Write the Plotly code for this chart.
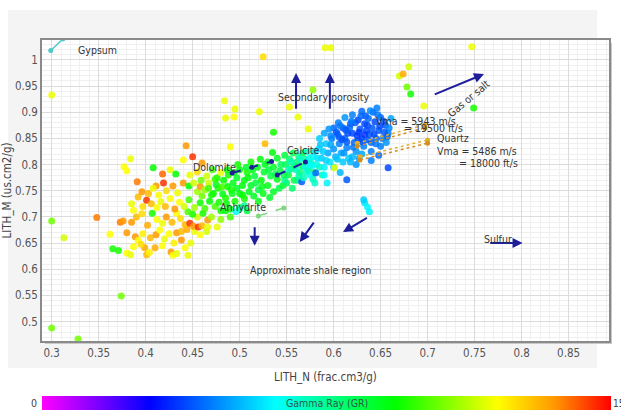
import plotly.graph_objects as go

# ---- data (LITH_N, LITH_M, GR) ----
outliers = [
    (0.300, 0.933, 118), (0.300, 0.692, 105), (0.313, 0.660, 115), (0.300, 0.488, 105),
    (0.328, 0.467, 105), (0.374, 0.549, 105), (0.348, 0.699, 138), (0.525, 1.006, 125),
    (0.591, 1.023, 118), (0.597, 1.023, 118), (0.747, 1.025, 118), (0.670, 0.969, 115),
    (0.674, 0.973, 132), (0.680, 0.987, 115), (0.678, 0.948, 105), (0.682, 0.935, 95),
    (0.696, 0.912, 118), (0.749, 0.908, 95), (0.578, 0.943, 108), (0.484, 0.922, 118),
    (0.495, 0.906, 118), (0.485, 0.889, 118), (0.494, 0.891, 120), (0.521, 0.901, 118),
    (0.553, 0.910, 118), (0.562, 0.891, 118), (0.573, 0.868, 118), (0.536, 0.862, 95),
    (0.527, 0.840, 130), (0.490, 0.834, 120),
]

shale_cluster = [
    (0.365, 0.639, 95), (0.371, 0.636, 95), (0.380, 0.631, 120), (0.384, 0.628, 118),
    (0.387, 0.643, 120), (0.399, 0.641, 132), (0.401, 0.628, 130), (0.404, 0.632, 122),
    (0.410, 0.641, 132), (0.418, 0.645, 120), (0.427, 0.633, 135), (0.429, 0.627, 120),
    (0.433, 0.630, 118), (0.442, 0.641, 120), (0.445, 0.627, 118), (0.438, 0.656, 135),
    (0.362, 0.667, 120), (0.380, 0.670, 135), (0.389, 0.662, 135), (0.392, 0.655, 120),
    (0.397, 0.668, 122), (0.405, 0.660, 130), (0.411, 0.666, 135), (0.415, 0.675, 120),
    (0.420, 0.658, 118), (0.425, 0.668, 120), (0.433, 0.670, 135), (0.438, 0.672, 130),
    (0.444, 0.676, 132), (0.452, 0.672, 118), (0.458, 0.666, 120), (0.465, 0.672, 115),
    (0.430, 0.650, 122), (0.448, 0.650, 118), (0.395, 0.648, 125),
    (0.373, 0.690, 138), (0.376, 0.692, 135), (0.385, 0.690, 135), (0.390, 0.700, 130),
    (0.387, 0.713, 120), (0.396, 0.706, 125), (0.402, 0.684, 132), (0.407, 0.707, 95),
    (0.412, 0.695, 120), (0.418, 0.688, 118), (0.422, 0.700, 135), (0.428, 0.690, 130),
    (0.433, 0.707, 120), (0.437, 0.697, 125), (0.442, 0.685, 130), (0.447, 0.688, 145),
    (0.451, 0.682, 135), (0.456, 0.681, 145), (0.460, 0.683, 130), (0.466, 0.681, 118),
    (0.466, 0.694, 135), (0.476, 0.681, 118), (0.455, 0.700, 115), (0.461, 0.707, 95),
    (0.450, 0.705, 95), (0.445, 0.710, 100), (0.470, 0.700, 110), (0.480, 0.695, 108),
    (0.397, 0.720, 125), (0.401, 0.732, 145), (0.406, 0.725, 130), (0.412, 0.718, 120),
    (0.416, 0.729, 118), (0.421, 0.720, 130), (0.426, 0.735, 120), (0.431, 0.715, 135),
    (0.436, 0.728, 120), (0.441, 0.720, 115), (0.446, 0.733, 100), (0.452, 0.718, 110),
    (0.458, 0.727, 95), (0.463, 0.716, 100), (0.468, 0.730, 93), (0.474, 0.720, 100),
    (0.480, 0.712, 95), (0.486, 0.725, 93), (0.490, 0.715, 90), (0.385, 0.725, 118),
    (0.392, 0.738, 130),
    (0.391, 0.767, 138), (0.396, 0.748, 135), (0.403, 0.745, 130), (0.411, 0.759, 135),
    (0.419, 0.765, 145), (0.408, 0.755, 118), (0.414, 0.742, 120), (0.422, 0.750, 125),
    (0.429, 0.759, 135), (0.434, 0.746, 118), (0.440, 0.765, 135), (0.446, 0.759, 93),
    (0.451, 0.765, 115), (0.455, 0.748, 110), (0.458, 0.758, 135), (0.463, 0.752, 108),
    (0.467, 0.765, 115), (0.472, 0.745, 93), (0.477, 0.755, 95), (0.482, 0.744, 90),
    (0.487, 0.758, 93), (0.492, 0.745, 90), (0.497, 0.755, 88), (0.503, 0.742, 92),
    (0.485, 0.736, 95),
    (0.377, 0.796, 120), (0.380, 0.788, 120), (0.384, 0.811, 118), (0.408, 0.794, 93),
    (0.418, 0.782, 140), (0.432, 0.782, 93), (0.440, 0.809, 120), (0.443, 0.836, 135),
    (0.450, 0.815, 145), (0.460, 0.803, 135), (0.447, 0.780, 118), (0.455, 0.786, 125),
    (0.465, 0.778, 115), (0.471, 0.790, 100), (0.476, 0.775, 95), (0.480, 0.785, 118),
    (0.426, 0.790, 118),
]

green_band = [
    (0.470, 0.742, 95), (0.475, 0.762, 90), (0.483, 0.770, 93), (0.488, 0.780, 95),
    (0.493, 0.765, 90), (0.497, 0.775, 88), (0.500, 0.790, 92), (0.505, 0.770, 90),
    (0.508, 0.785, 95), (0.512, 0.760, 88), (0.516, 0.778, 85), (0.519, 0.795, 90),
    (0.523, 0.770, 92), (0.526, 0.786, 88), (0.530, 0.760, 90), (0.533, 0.778, 85),
    (0.536, 0.795, 88), (0.540, 0.772, 90), (0.543, 0.788, 85), (0.546, 0.760, 88),
    (0.549, 0.800, 82), (0.552, 0.780, 85), (0.555, 0.792, 80), (0.558, 0.770, 85),
    (0.561, 0.805, 80), (0.564, 0.785, 78), (0.567, 0.797, 82), (0.570, 0.810, 75),
    (0.573, 0.790, 78), (0.576, 0.803, 72), (0.579, 0.785, 80), (0.500, 0.745, 92),
    (0.505, 0.735, 95), (0.510, 0.748, 90), (0.515, 0.740, 88), (0.520, 0.752, 85),
    (0.525, 0.745, 90), (0.495, 0.730, 95), (0.490, 0.700, 100), (0.500, 0.718, 88),
    (0.508, 0.712, 85), (0.485, 0.712, 92), (0.478, 0.728, 95), (0.536, 0.748, 88),
    (0.542, 0.755, 85), (0.550, 0.765, 82), (0.556, 0.755, 80), (0.562, 0.770, 78),
    (0.530, 0.805, 90), (0.540, 0.812, 88), (0.548, 0.818, 85), (0.522, 0.810, 92),
    (0.512, 0.805, 95), (0.557, 0.822, 85), (0.567, 0.822, 80), (0.535, 0.823, 92),
    (0.578, 0.772, 72), (0.585, 0.795, 70), (0.588, 0.780, 72), (0.520, 0.730, 90),
    (0.532, 0.737, 88), (0.498, 0.800, 95), (0.460, 0.740, 105), (0.467, 0.755, 100),
    (0.496, 0.710, 62), (0.500, 0.716, 70), (0.505, 0.722, 75), (0.552, 0.790, 70),
    (0.548, 0.770, 75),
    (0.487, 0.790, 92), (0.494, 0.785, 90), (0.503, 0.760, 92), (0.507, 0.795, 88),
    (0.514, 0.790, 90), (0.517, 0.765, 86), (0.527, 0.800, 88), (0.531, 0.790, 86),
    (0.538, 0.782, 84), (0.544, 0.800, 82), (0.547, 0.780, 84), (0.553, 0.810, 80),
    (0.559, 0.797, 78), (0.563, 0.815, 76), (0.509, 0.775, 92), (0.524, 0.758, 90),
    (0.491, 0.752, 95), (0.481, 0.757, 100), (0.474, 0.772, 98), (0.459, 0.770, 105),
]

blue_band = [
    (0.560, 0.790, 70), (0.565, 0.810, 68), (0.570, 0.795, 65), (0.572, 0.825, 70),
    (0.575, 0.780, 62), (0.578, 0.815, 60), (0.582, 0.800, 65), (0.584, 0.830, 58),
    (0.587, 0.812, 55), (0.590, 0.795, 60), (0.592, 0.840, 55), (0.594, 0.822, 50),
    (0.596, 0.805, 58), (0.598, 0.850, 45), (0.600, 0.830, 48), (0.602, 0.815, 52),
    (0.604, 0.858, 42), (0.606, 0.840, 45), (0.608, 0.822, 50), (0.610, 0.870, 40),
    (0.612, 0.850, 42), (0.614, 0.832, 45), (0.616, 0.812, 55), (0.618, 0.878, 40),
    (0.620, 0.860, 38), (0.622, 0.842, 42), (0.624, 0.825, 48), (0.626, 0.885, 38),
    (0.628, 0.868, 40), (0.630, 0.850, 38), (0.632, 0.835, 45), (0.634, 0.893, 40),
    (0.636, 0.875, 38), (0.638, 0.858, 40), (0.640, 0.842, 42), (0.642, 0.900, 42),
    (0.644, 0.882, 38), (0.646, 0.908, 45), (0.648, 0.865, 40), (0.650, 0.890, 42),
    (0.652, 0.850, 45), (0.655, 0.875, 40), (0.658, 0.860, 45), (0.600, 0.870, 42),
    (0.605, 0.880, 45), (0.612, 0.890, 48), (0.620, 0.895, 45), (0.630, 0.902, 42),
    (0.590, 0.860, 50), (0.585, 0.850, 55), (0.595, 0.868, 48), (0.615, 0.860, 38),
    (0.625, 0.855, 36), (0.635, 0.865, 38), (0.645, 0.850, 42), (0.640, 0.825, 45),
    (0.630, 0.820, 50), (0.620, 0.815, 52), (0.610, 0.805, 55), (0.600, 0.795, 58),
    (0.650, 0.835, 45), (0.656, 0.842, 48), (0.601, 0.794, 118), (0.593, 0.765, 60),
    (0.614, 0.771, 40), (0.658, 0.794, 38), (0.566, 0.767, 40), (0.581, 0.784, 42),
    (0.633, 0.727, 58), (0.636, 0.719, 60), (0.638, 0.710, 60), (0.632, 0.733, 55),
    (0.575, 0.800, 65), (0.568, 0.775, 70), (0.555, 0.805, 72), (0.580, 0.765, 68),
    (0.590, 0.780, 62), (0.607, 0.785, 52), (0.624, 0.800, 48), (0.640, 0.808, 45),
    (0.648, 0.818, 42),
    (0.603, 0.862, 40), (0.609, 0.848, 38), (0.617, 0.871, 42), (0.623, 0.880, 40),
    (0.627, 0.862, 36), (0.633, 0.878, 38), (0.637, 0.888, 42), (0.641, 0.870, 40),
    (0.647, 0.895, 44), (0.653, 0.883, 40), (0.659, 0.870, 46), (0.661, 0.888, 50),
    (0.643, 0.858, 38), (0.631, 0.843, 40), (0.621, 0.833, 44), (0.611, 0.822, 48),
    (0.597, 0.838, 50), (0.589, 0.825, 55), (0.583, 0.812, 58), (0.577, 0.798, 62),
    (0.571, 0.786, 68), (0.563, 0.778, 72), (0.606, 0.852, 40), (0.614, 0.843, 40),
    (0.626, 0.846, 38), (0.637, 0.847, 40), (0.649, 0.873, 38), (0.657, 0.853, 42),
    (0.619, 0.883, 44), (0.629, 0.893, 42), (0.639, 0.903, 46), (0.607, 0.874, 44),
    (0.597, 0.855, 46), (0.613, 0.866, 40), (0.633, 0.857, 36), (0.645, 0.840, 44),
    (0.654, 0.862, 40), (0.618, 0.805, 52), (0.627, 0.812, 48), (0.604, 0.810, 54),
    (0.592, 0.808, 56), (0.586, 0.838, 54), (0.580, 0.825, 58), (0.574, 0.812, 64),
]

# mineral reference lines
dolomite_x = [0.492, 0.513, 0.534]
dolomite_y = [0.784, 0.795, 0.806]
calcite_x = [0.540, 0.570]
calcite_y = [0.780, 0.805]
anhydrite_x = [0.520, 0.547]
anhydrite_y = [0.702, 0.717]
gypsum_x = [0.299, 0.312]
gypsum_y = [1.018, 1.040]
quartz1_x = [0.625, 0.697]
quartz1_y = [0.841, 0.876]
quartz2_x = [0.628, 0.700]
quartz2_y = [0.815, 0.847]

colorscale = [[0.0, "#ff00ff"], [0.19, "#0000ff"], [0.41, "#00ffff"],
              [0.62, "#00ff00"], [0.80, "#ffff00"], [0.90, "#ff9900"], [1.0, "#ff0000"]]

pts = outliers + shale_cluster + green_band + blue_band
xs = [p[0] for p in pts]
ys = [p[1] for p in pts]
gr = [p[2] for p in pts]

FONT = "Liberation Sans Narrow, DejaVu Sans Condensed, Liberation Sans, Arial, sans-serif"
NAVY = "#1e1e9a"

fig = go.Figure()

def ref_line(x, y, color, dash, width=1.5):
    fig.add_trace(go.Scatter(x=x, y=y, mode="lines+markers",
                             line=dict(color=color, width=width, dash=dash),
                             marker=dict(size=5, color=color),
                             showlegend=False, hoverinfo="skip"))

fig.add_trace(go.Scatter(
    x=xs, y=ys, mode="markers", showlegend=False,
    marker=dict(size=7, color=gr, cmin=0, cmax=150, colorscale=colorscale,
                opacity=0.85, line=dict(width=0),
                colorbar=dict(orientation="h", x=0.5018, xanchor="center",
                              y=-0.1827, yanchor="top", len=1.0035, lenmode="fraction",
                              thickness=14, xpad=0, ypad=0, outlinewidth=0,
                              showticklabels=False, ticks="")),
))

ref_line(dolomite_x, dolomite_y, NAVY, "dash", 2)
ref_line(calcite_x, calcite_y, NAVY, "dash", 2)
ref_line(anhydrite_x, anhydrite_y, "#7ed87e", "dash", 1.5)
ref_line(gypsum_x, gypsum_y, "#4fc8c8", "solid", 1.5)
for qx, qy in ((quartz1_x, quartz1_y), (quartz2_x, quartz2_y)):
    ref_line(qx, qy, "#e0b030", "dot", 1.5)
    ref_line(qx, [v - 0.006 for v in qy], "#d09020", "dot", 1.5)

annotations = []

def arrow(x0, y0, x1, y1):
    annotations.append(dict(x=x1, y=y1, ax=x0, ay=y0, xref="x", yref="y",
                            axref="x", ayref="y", showarrow=True, arrowhead=2,
                            arrowsize=1, arrowwidth=2, arrowcolor=NAVY, text=""))

arrow(0.560, 0.904, 0.560, 0.975)
arrow(0.596, 0.904, 0.596, 0.975)
arrow(0.706, 0.933, 0.760, 0.973)
arrow(0.516, 0.683, 0.516, 0.645)
arrow(0.580, 0.692, 0.564, 0.652)
arrow(0.637, 0.700, 0.610, 0.671)
arrow(0.765, 0.650, 0.801, 0.650)

def label(x, y, text, anchor="center", angle=0):
    annotations.append(dict(x=x, y=y, xref="x", yref="y", text=text, showarrow=False,
                            xanchor=anchor, textangle=angle,
                            font=dict(family=FONT, size=10.5, color="#333333")))

label(0.326, 1.019, "Gypsum", "left")
label(0.589, 0.929, "Secondary porosity")
label(0.744, 0.927, "Gas or salt", angle=-40)
label(0.473, 0.796, "Dolomite")
label(0.568, 0.828, "Calcite")
label(0.504, 0.719, "Anhydrite")
label(0.688, 0.884, "Vma = 5943 m/s")
label(0.706, 0.870, "= 19500 ft/s")
label(0.708, 0.851, "Quartz", "left")
label(0.708, 0.826, "Vma = 5486 m/s", "left")
label(0.731, 0.803, "= 18000 ft/s", "left")
label(0.758, 0.658, "Sulfur", "left")
label(0.575, 0.599, "Approximate shale region")

# colorbar texts
annotations += [
    dict(x=0.5018, y=-0.206, xref="paper", yref="paper", text="Gamma Ray (GR)",
         yanchor="middle", showarrow=False, font=dict(family=FONT, size=10.5, color="#2a5a4a")),
    dict(x=-0.0053, y=-0.206, xref="paper", yref="paper", text="0", xanchor="right",
         yanchor="middle", showarrow=False, font=dict(family=FONT, size=10.5, color="#444444")),
    dict(x=1.0035, y=-0.206, xref="paper", yref="paper", text="15", xanchor="left",
         yanchor="middle", showarrow=False, font=dict(family=FONT, size=10, color="#444444")),
    dict(x=0.455, y=1.16, xref="paper", yref="paper", text="(a)", yanchor="middle",
         showarrow=False, font=dict(family=FONT, size=10, color="#666666")),
]

shapes = [
    dict(type="rect", xref="paper", yref="paper", x0=-0.06, x1=0.979, y0=-0.0897, y1=1.0997,
         fillcolor="#f4f4f4", line=dict(width=0), layer="below"),
    dict(type="rect", xref="paper", yref="paper", x0=0.0053, x1=1.0053, y0=-0.01, y1=0.99,
         fillcolor="#c8c8c8", line=dict(width=0), layer="below"),
    dict(type="rect", xref="paper", yref="paper", x0=0, x1=1, y0=0, y1=1,
         fillcolor="white", line=dict(width=0), layer="below"),
]

axis_common = dict(showline=True, mirror=True, linecolor="#8a8a8a", linewidth=1.5,
                   gridcolor="#dcdcdc", gridwidth=1, zeroline=False, ticks="",
                   tickfont=dict(family=FONT, size=11.5, color="#555555"),
                   minor=dict(dtick=0.01, showgrid=True, gridcolor="#f0f0f0", gridwidth=1))

fig.update_layout(
    width=621, height=410,
    margin=dict(l=42, r=12, t=40, b=69, autoexpand=False),
    paper_bgcolor="white", plot_bgcolor="rgba(0,0,0,0)",
    xaxis=dict(range=[0.2897, 0.893], dtick=0.05, tick0=0.3, automargin=False,
               title=dict(text="LITH_N (frac.cm3/g)", standoff=14,
                          font=dict(family=FONT, size=11.5, color="#444444")),
               **axis_common),
    yaxis=dict(range=[0.463, 1.038], dtick=0.05, tick0=0.5, automargin=False,
               title=dict(text="LITH_M (us.cm2/g)", standoff=4,
                          font=dict(family=FONT, size=11.5, color="#444444")),
               **axis_common),
    annotations=annotations, shapes=shapes,
)

fig.write_html("out.html")
